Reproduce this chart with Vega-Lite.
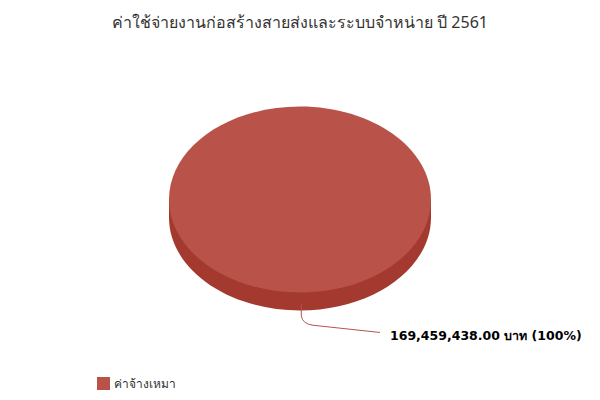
{
  "$schema": "https://vega.github.io/schema/vega-lite/v6.json",
  "width": 600,
  "height": 400,
  "autosize": {"type": "fit", "contains": "padding"},
  "padding": {"top": 15, "left": 0, "right": 0, "bottom": 0},
  "background": "white",
  "config": {"view": {"stroke": null}},
  "title": {
    "text": "ค่าใช้จ่ายงานก่อสร้างสายส่งและระบบจำหน่าย ปี 2561",
    "fontSize": 16,
    "fontWeight": "normal",
    "color": "#333333",
    "font": "Noto Sans",
    "anchor": "middle",
    "offset": 8
  },
  "data": {
    "values": [
      {"type": "ค่าจ้างเหมา", "amount": 169459438, "label": "169,459,438.00 บาท (100%)"}
    ]
  },
  "layer": [
    {
      "mark": {
        "type": "point",
        "shape": "M-1,0 L-1,0.137 A1,0.71 0 0,0 1,0.137 L1,0 Z",
        "size": 68644,
        "filled": true,
        "fill": "#a3392f",
        "strokeWidth": 0,
        "opacity": 1,
        "yOffset": -20
      },
      "encoding": {}
    },
    {
      "mark": {
        "type": "point",
        "shape": "M-1,0 A1,0.71 0 1,1 1,0 A1,0.71 0 1,1 -1,0 Z",
        "size": 68644,
        "filled": true,
        "strokeWidth": 0,
        "opacity": 1,
        "yOffset": -20
      },
      "encoding": {
        "color": {
          "field": "type",
          "type": "nominal",
          "scale": {"range": ["#b9534a"]},
          "legend": {
            "title": null,
            "orient": "none",
            "legendX": 97,
            "legendY": 338,
            "symbolType": "square",
            "symbolSize": 169,
            "symbolStrokeWidth": 0,
            "labelFontSize": 12,
            "labelFont": "Noto Sans",
            "labelColor": "#333333"
          }
        }
      }
    },
    {
      "mark": {
        "type": "point",
        "shape": "M0.01,0.8 L0.01,0.89 Q0.02,0.95 0.1,0.96 L0.61,1.015",
        "size": 68644,
        "filled": false,
        "fill": null,
        "stroke": "#b9534a",
        "strokeWidth": 1,
        "opacity": 1,
        "yOffset": -20
      },
      "encoding": {}
    },
    {
      "mark": {
        "type": "text",
        "align": "left",
        "baseline": "middle",
        "dx": 90,
        "dy": 116,
        "fontSize": 12.5,
        "fontWeight": "bold",
        "font": "DejaVu Sans",
        "color": "#000000"
      },
      "encoding": {"text": {"field": "label"}}
    }
  ]
}
